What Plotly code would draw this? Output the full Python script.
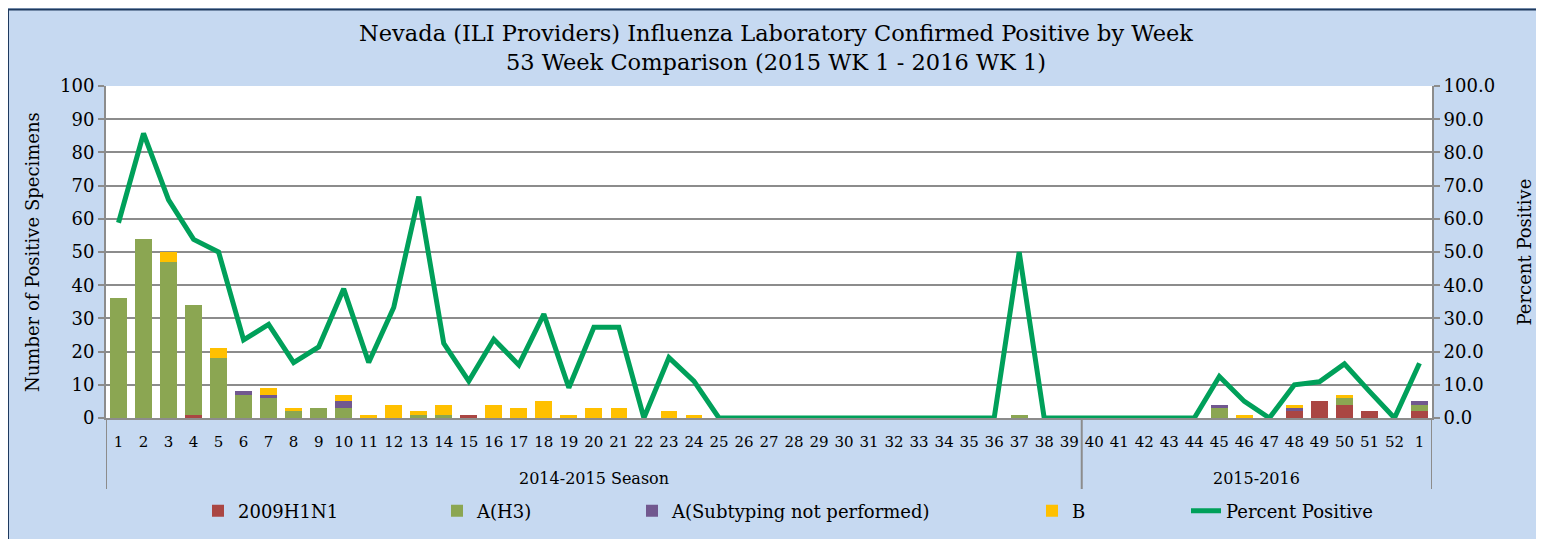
import plotly.graph_objects as go

weeks = [str(w) for w in range(1, 53)] + ["1"]
seasons = ["2014-2015 Season"] * 39 + ["2015-2016"] * 14

h1n1 = [0, 0, 0, 1, 0, 0, 0, 0, 0, 0, 0, 0, 0, 0, 1, 0, 0, 0, 0, 0, 0, 0, 0, 0, 0, 0,
        0, 0, 0, 0, 0, 0, 0, 0, 0, 0, 0, 0, 0, 0, 0, 0, 0, 0, 0, 0, 0, 2, 5, 4, 2, 0, 2]
h3 = [36, 54, 47, 33, 18, 7, 6, 2, 3, 3, 0, 0, 1, 1, 0, 0, 0, 0, 0, 0, 0, 0, 0, 0, 0, 0,
      0, 0, 0, 0, 0, 0, 0, 0, 0, 0, 1, 0, 0, 0, 0, 0, 0, 0, 3, 0, 0, 0, 0, 2, 0, 0, 2]
subtyping = [0, 0, 0, 0, 0, 1, 1, 0, 0, 2, 0, 0, 0, 0, 0, 0, 0, 0, 0, 0, 0, 0, 0, 0, 0, 0,
             0, 0, 0, 0, 0, 0, 0, 0, 0, 0, 0, 0, 0, 0, 0, 0, 0, 0, 1, 0, 0, 1, 0, 0, 0, 0, 1]
b = [0, 0, 3, 0, 3, 0, 2, 1, 0, 2, 1, 4, 1, 3, 0, 4, 3, 5, 1, 3, 3, 0, 2, 1, 0, 0,
     0, 0, 0, 0, 0, 0, 0, 0, 0, 0, 0, 0, 0, 0, 0, 0, 0, 0, 0, 1, 0, 1, 0, 1, 0, 0, 0]
pct_positive = [58.8, 85.7, 65.7, 53.8, 50.0, 23.5, 28.2, 16.7, 21.4, 38.9, 16.7, 33.3, 66.7,
                22.5, 11.1, 23.7, 16.0, 31.3, 9.1, 27.3, 27.3, 0.0, 18.2, 11.1, 0.0, 0.0,
                0.0, 0.0, 0.0, 0.0, 0.0, 0.0, 0.0, 0.0, 0.0, 0.0, 50.0, 0.0, 0.0, 0.0,
                0.0, 0.0, 0.0, 0.0, 12.5, 5.0, 0.0, 10.0, 10.9, 16.3, 8.0, 0.0, 16.5]

series_names = ["2009H1N1", "A(H3)", "A(Subtyping not performed)", "B"]
series_colors = ["#AA4643", "#8BA652", "#71588F", "#FFC000"]
line_color = "#00A05A"

FONT = "DejaVu Serif"
OFF = 8  # page body margin
W, H = 1536, 531
ML, MT = 98, 78
PW, PH = 1326, 332
MR, MB = W - ML - PW, H - MT - PH


def px_x(p):
    """page x pixel -> paper fraction"""
    return (p - OFF - ML) / PW


def px_y(p):
    """page y pixel -> paper fraction"""
    return (MT + PH - (p - OFF)) / PH


pos = list(range(len(weeks)))
fig = go.Figure()
legend_names = ["legend", "legend2", "legend3", "legend4", "legend5"]
for i, (name, vals, col) in enumerate(zip(series_names, [h1n1, h3, subtyping, b], series_colors)):
    fig.add_trace(go.Bar(x=pos, y=vals, name=name, marker=dict(color=col, line=dict(width=0)),
                         legend=legend_names[i]))
fig.add_trace(go.Scatter(x=pos, y=pct_positive, name="Percent Positive", mode="lines",
                         line=dict(color=line_color, width=5), yaxis="y2",
                         legend=legend_names[4]))

legend_text_x = [238, 477, 672, 1072, 1226]
legends = {}
for ln, tx in zip(legend_names, legend_text_x):
    legends[ln] = dict(x=px_x(tx - 40), y=px_y(511), xanchor="left", yanchor="middle",
                       orientation="h", bgcolor="rgba(0,0,0,0)",
                       font=dict(family=FONT, size=18, color="#000000"))

# season groups: labels and dividers
groups = []
for i, s in enumerate(seasons):
    if not groups or groups[-1][0] != s:
        groups.append([s, i, i])
    else:
        groups[-1][2] = i

shapes = [
    dict(type="rect", xref="paper", yref="paper", x0=px_x(1543), x1=px_x(1560), y0=-0.5,
         y1=1.5, fillcolor="white", line=dict(width=0), layer="below"),
    dict(type="rect", xref="paper", yref="paper", x0=px_x(8), x1=px_x(1542), y0=px_y(560),
         y1=px_y(9.5), fillcolor="rgba(0,0,0,0)", line=dict(color="#1F3A5F", width=2),
         layer="below"),
]
annotations = []
bounds = sorted(set([g[1] - 0.5 for g in groups] + [g[2] + 0.5 for g in groups]))
for bx in bounds:
    shapes.append(dict(type="line", xref="x", yref="paper", x0=bx, x1=bx, y0=0, y1=px_y(489),
                       line=dict(color="#8C8C8C", width=2)))
for s, i0, i1 in groups:
    annotations.append(dict(x=(i0 + i1) / 2, y=px_y(478), xref="x", yref="paper", text=s,
                            showarrow=False, font=dict(family=FONT, size=16, color="#000000"),
                            yanchor="middle"))
annotations.append(dict(x=px_x(32), y=0.5, xref="paper", yref="paper",
                        text="Number of Positive Specimens", textangle=-90, showarrow=False,
                        xanchor="center", yanchor="middle",
                        font=dict(family=FONT, size=18, color="#000000")))

fig.update_layout(
    width=W, height=H,
    margin=dict(l=ML, r=MR, t=MT, b=MB, autoexpand=False),
    paper_bgcolor="#C6D9F1",
    plot_bgcolor="white",
    showlegend=True,
    barmode="stack",
    bargap=0.33,
    font=dict(family=FONT, size=18, color="#000000"),
    title=dict(text="Nevada (ILI Providers) Influenza Laboratory Confirmed Positive by Week<br>"
                    "53 Week Comparison (2015 WK 1 - 2016 WK 1)",
               x=0.5, xanchor="center", y=(H - 33) / H, yanchor="middle",
               font=dict(family=FONT, size=22.5, color="#000000")),
    xaxis=dict(range=[-0.5, len(weeks) - 0.5], tickmode="array", tickvals=pos, ticktext=weeks,
               tickangle=0, showline=True, linecolor="#8C8C8C", linewidth=2,
               ticks="", ticklabelstandoff=9,
               tickfont=dict(family=FONT, size=15, color="#000000"),
               showgrid=False, zeroline=False),
    yaxis=dict(range=[0, 100], dtick=10, showline=True, linecolor="#8C8C8C", linewidth=2,
               ticks="outside", ticklen=6, tickcolor="#8C8C8C", tickwidth=2,
               gridcolor="#8C8C8C", gridwidth=1.5, zeroline=False,
               tickfont=dict(family=FONT, size=18)),
    yaxis2=dict(range=[0, 100], dtick=10, overlaying="y", side="right", showline=True,
                linecolor="#8C8C8C", linewidth=2, ticks="outside", ticklen=6,
                tickcolor="#8C8C8C", tickwidth=2, showgrid=False, zeroline=False,
                tickformat=".1f",
                title=dict(text="Percent Positive", font=dict(family=FONT, size=18),
                           standoff=24),
                tickfont=dict(family=FONT, size=18)),
    shapes=shapes,
    annotations=annotations,
    **legends,
)

fig.write_html("out.html")
